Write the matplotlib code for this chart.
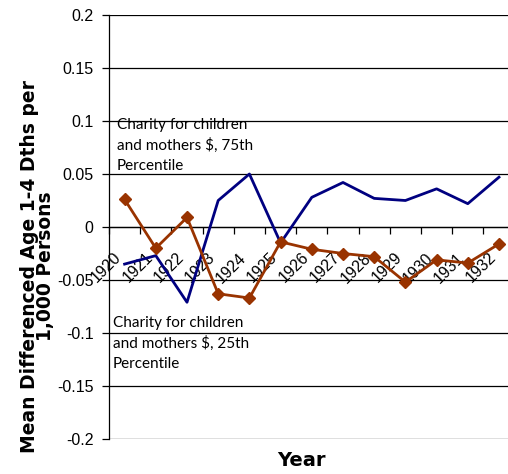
import matplotlib.pyplot as plt
from matplotlib.transforms import offset_copy

years = ['1920', '1921', '1922', '1923', '1924', '1925', '1926',
         '1927', '1928', '1929', '1930', '1931', '1932']

p75 = [-0.035, -0.027, -0.071, 0.025, 0.050, -0.015, 0.028,
       0.042, 0.027, 0.025, 0.036, 0.022, 0.047]

p25 = [0.026, -0.020, 0.009, -0.063, -0.067, -0.014, -0.021,
       -0.025, -0.028, -0.052, -0.031, -0.034, -0.016]

yticks = [-0.2, -0.15, -0.1, -0.05, 0, 0.05, 0.1, 0.15, 0.2]
ytick_labels = ['-0.2', '-0.15', '-0.1', '-0.05', '0', '0.05', '0.1', '0.15', '0.2']

fig = plt.figure(figsize=(5.08, 4.74), dpi=100)
ax = fig.add_axes([109 / 508, 35 / 474, 405.6 / 508, 424 / 474])

x = list(range(len(years)))
ax.plot(x, p75, color='#000080', lw=2.0, zorder=3)
ax.plot(x, p25, color='#993300', lw=2.0, marker='D', ms=6, zorder=3)

ax.set_xlim(-0.5, len(years) - 0.5)
ax.set_ylim(-0.2, 0.2)
ax.set_yticks(yticks)
ax.set_yticklabels(ytick_labels, fontfamily='Liberation Sans', fontsize=11.5)
ax.yaxis.grid(True, color='black', lw=0.9)
ax.set_axisbelow(True)

ax.spines['top'].set_visible(False)
ax.spines['right'].set_visible(False)
ax.spines['bottom'].set_position(('data', 0))
ax.spines['bottom'].set_linewidth(0.9)
ax.spines['left'].set_linewidth(0.9)
ax.tick_params(axis='y', direction='out', length=5, width=0.9, pad=6)

# category boundaries get tick marks, labels drawn by hand
ax.set_xticks([i - 0.5 for i in range(len(years) + 1)])
ax.set_xticklabels([])
ax.tick_params(axis='x', direction='out', length=5, width=0.9)

trans = offset_copy(ax.transData, fig=fig, x=-11, y=-23, units='dots')
for i, yr in enumerate(years):
    ax.text(i, 0, yr, transform=trans, rotation=45, ha='right', va='top',
            rotation_mode='anchor', fontsize=11.5, family='Liberation Sans',
            zorder=1)

fig.text(117 / 508, 1 - 118 / 474,
         'Charity for children\nand mothers $, 75th\nPercentile',
         family='Lato', fontsize=11, va='top', ha='left', linespacing=1.5)
fig.text(113 / 508, 1 - 316 / 474,
         'Charity for children\nand mothers $, 25th\nPercentile',
         family='Lato', fontsize=11, va='top', ha='left', linespacing=1.5)

ax.set_ylabel('Mean Differenced Age 1-4 Dths per\n1,000 Persons',
              family='DejaVu Sans', fontsize=13.5, fontweight='bold',
              va='center', ha='center', linespacing=0.82)
ax.yaxis.set_label_coords(-0.176, 0.408)
fig.text(301 / 508, 1 - 461 / 474, 'Year', family='DejaVu Sans',
         fontsize=14, fontweight='bold', ha='center', va='center')

fig.savefig('out.png', dpi=100)
